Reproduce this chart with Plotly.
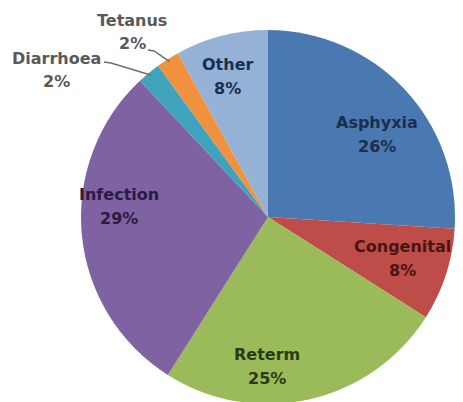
import math
import plotly.graph_objects as go

categories = ["Asphyxia", "Congenital", "Reterm", "Infection", "Diarrhoea", "Tetanus", "Other"]
values = [26, 8, 25, 29, 2, 2, 8]
slice_colors = ["#4A78B0", "#BE4D4A", "#9BBA59", "#7E62A1", "#3FA3BD", "#F0913F", "#95B2D6"]
text_colors = ["#1A2E4F", "#4A1412", "#2C3A12", "#2A1C40", "#595959", "#595959", "#1A2E4F"]

# label placement style: (radius fraction, angle nudge deg) for inside labels
inside_style = {
    "Asphyxia": (0.73, 6.2),
    "Congenital": (0.755, -0.7),
    "Reterm": (0.80, 13.0),
    "Infection": (0.80, 9.4),
    "Other": (0.78, -1.6),
}
# outside labels: label centre and leader-line start/elbow (pixels)
outside_style = {
    "Diarrhoea": dict(label=(56, 70), start=(104, 62), elbow=(111, 63)),
    "Tetanus": dict(label=(132, 32), start=(148, 50), elbow=(154, 51)),
}

W, H = 463, 404
R = 187.0
cx, cy = 268.0, 217.0

fig = go.Figure(go.Pie(
    labels=categories,
    values=values,
    sort=False,
    direction="clockwise",
    rotation=0,
    marker=dict(colors=slice_colors, line=dict(width=0)),
    textinfo="none",
    hoverinfo="label+percent",
    domain=dict(x=[(cx - R) / W, (cx + R) / W],
                y=[1 - (cy + R) / H, 1 - (cy - R) / H]),
    showlegend=False,
))

def px2paper(x, y):
    return x / W, 1 - y / H

total = float(sum(values))
annotations = []
shapes = []
cum = 0.0
for cat, v, tc in zip(categories, values, text_colors):
    mid = (cum + v / 2.0) / total * 360.0
    cum += v
    if cat in inside_style:
        rf, dang = inside_style[cat]
        a = math.radians(mid + dang)
        lx = cx + rf * R * math.sin(a)
        ly = cy - rf * R * math.cos(a)
    else:
        st = outside_style[cat]
        lx, ly = st["label"]
        a = math.radians(mid)
        rx = cx + 0.985 * R * math.sin(a)
        ry = cy - 0.985 * R * math.cos(a)
        pts = [st["start"], st["elbow"], (rx, ry)]
        path = "M " + " L ".join(
            f"{px2paper(x, y)[0]:.5f},{px2paper(x, y)[1]:.5f}" for x, y in pts)
        shapes.append(dict(type="path", path=path, xref="paper", yref="paper",
                           line=dict(color="#6E6E6E", width=1.5)))
    for txt, dy in ((cat, -12), (f"{v}%", 12)):
        px_, py_ = px2paper(lx, ly + dy)
        annotations.append(dict(
            x=px_, y=py_, xref="paper", yref="paper", text=txt, showarrow=False,
            xanchor="center", yanchor="middle",
            font=dict(family="DejaVu Sans", size=16, color=tc, weight="bold"),
        ))

fig.update_layout(
    width=W, height=H,
    margin=dict(l=0, r=0, t=0, b=0),
    paper_bgcolor="white",
    plot_bgcolor="white",
    annotations=annotations,
    shapes=shapes,
)

fig.write_html(
    "out.html",
    config={"displayModeBar": False},
    post_script="document.body.style.margin='0';document.body.style.overflow='hidden';",
)
